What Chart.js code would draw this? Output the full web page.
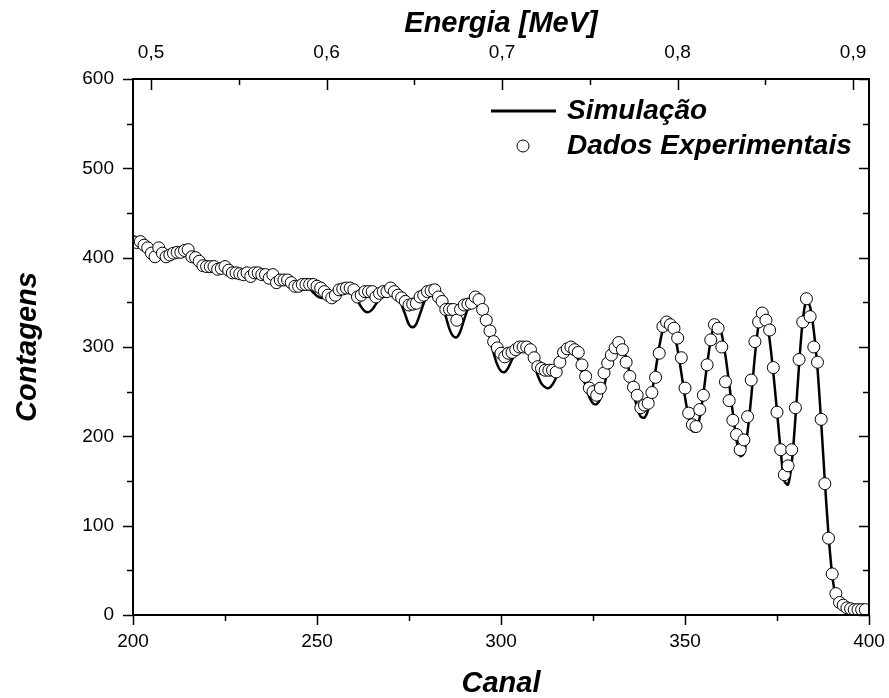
<!DOCTYPE html>
<html>
<head>
<meta charset="utf-8">
<script src="https://cdn.jsdelivr.net/npm/chart.js@4.4.1/dist/chart.umd.min.js"></script>
<style>
  body { margin: 0; background: #fff; }
</style>
</head>
<body>
<canvas id="spectrumChart" width="889" height="698"></canvas>
<script>
// canais 200..399 (dados) e 200..400 (simulacao)
var firstChannel = 200;

var expCounts = [
  418, 417, 418, 414, 411, 405, 401, 411, 405, 401,
  403, 405, 406, 406, 408, 409, 401, 400, 396, 391,
  390, 390, 390, 387, 388, 390, 386, 383, 383, 382,
  381, 383, 379, 383, 383, 381, 381, 377, 381, 372,
  375, 375, 375, 372, 368, 368, 370, 370, 370, 370,
  368, 366, 362, 358, 355, 358, 364, 365, 366, 366,
  364, 356, 358, 362, 362, 362, 356, 360, 362, 362,
  366, 362, 358, 355, 351, 347, 348, 349, 356, 358,
  362, 363, 364, 356, 351, 342, 342, 342, 330, 342,
  347, 348, 349, 356, 353, 342, 330, 318, 306, 299,
  293, 289, 293, 294, 297, 300, 300, 300, 297, 288,
  278, 276, 274, 274, 274, 272, 283, 294, 298, 300,
  297, 294, 280, 267, 254, 250, 246, 254, 271, 282,
  291, 299, 305, 297, 283, 267, 255, 246, 232, 235,
  237, 249, 266, 293, 323, 328, 325, 321, 310, 288,
  254, 226, 213, 211, 230, 246, 280, 308, 325, 321,
  300, 261, 240, 218, 202, 185, 196, 222, 263, 306,
  328, 338, 330, 319, 277, 227, 185, 157, 167, 185,
  232, 286, 328, 354, 334, 300, 283, 219, 147, 86,
  46, 24, 14, 11, 8, 7, 6, 6, 6, 6
];

var simCounts = [
  417, 416, 414, 412, 410, 408, 406, 405, 404, 404,
  404, 405, 406, 406, 405, 403, 400, 397, 394, 392,
  390, 389, 388, 387, 387, 386, 385, 384, 383, 382,
  381, 381, 380, 380, 380, 379, 378, 377, 376, 375,
  374, 373, 372, 371, 370, 369, 368, 367, 365, 361,
  357, 355, 355, 357, 360, 363, 365, 365, 364, 362,
  358, 352, 345, 340, 339, 342, 348, 355, 360, 363,
  364, 362, 356, 347, 336, 325, 322, 326, 337, 349,
  358, 362, 361, 356, 347, 334, 320, 312, 311, 318,
  331, 343, 352, 355, 352, 342, 327, 310, 293, 280,
  273, 272, 277, 286, 294, 299, 300, 298, 291, 280,
  268, 259, 255, 254, 258, 266, 278, 290, 298, 300,
  296, 286, 272, 256, 244, 237, 236, 242, 256, 274,
  291, 302, 306, 301, 288, 270, 250, 232, 222, 221,
  230, 249, 274, 300, 320, 330, 328, 317, 297, 271,
  244, 221, 206, 206, 221, 248, 280, 308, 325, 327,
  314, 290, 259, 226, 196, 178, 181, 205, 244, 290,
  325, 340, 333, 308, 271, 228, 184, 150, 146, 170,
  220, 280, 330, 352, 345, 318, 276, 216, 150, 90,
  45, 20, 10, 7, 6, 5, 5, 5, 5, 5,
  5
];

var channelTicks = [200, 250, 300, 350, 400];
var channelMinor = [225, 275, 325, 375];
var countTicks = [0, 100, 200, 300, 400, 500, 600];
var countMinor = [50, 150, 250, 350, 450, 550];
var energyTicks = [0.5, 0.6, 0.7, 0.8, 0.9];
var energyMinor = [0.55, 0.65, 0.75, 0.85];
var energyMin = 0.4897;
var energyMax = 0.9091;

var expPoints = expCounts.map(function (v, i) { return {x: firstChannel + i, y: v}; });
var simPoints = simCounts.map(function (v, i) { return {x: firstChannel + i, y: v}; });

var tickFont = {family: '"Liberation Sans", Arial, sans-serif', size: 19};
var titleFont = {family: '"Liberation Sans", Arial, sans-serif', size: 29, weight: 'bold', style: 'italic', lineHeight: 1};

function setTicks(values) {
  return function (scale) {
    scale.ticks = values.map(function (v) { return {value: v}; });
  };
}

function noOverhang(h) {
  return function (s) {
    s.height = h;
    s.paddingLeft = 0;
    s.paddingRight = 0;
  };
}

// moldura, ticks para dentro/fora e legenda
var framePlugin = {
  id: 'frame',
  afterDraw: function (chart) {
    var ctx = chart.ctx;
    var a = chart.chartArea;
    var sx = chart.scales.x, sy = chart.scales.y, se = chart.scales.x2;
    ctx.save();
    ctx.strokeStyle = '#000';
    ctx.lineWidth = 2;
    ctx.strokeRect(a.left, a.top, a.right - a.left, a.bottom - a.top);
    ctx.lineWidth = 1.5;
    ctx.beginPath();
    function tx(list, scale, len) {
      list.forEach(function (v) {
        var p = Math.round(scale.getPixelForValue(v)) + 0.5;
        ctx.moveTo(p, a.bottom); ctx.lineTo(p, a.bottom + len);
      });
    }
    function ty(list, len) {
      list.forEach(function (v) {
        var p = Math.round(sy.getPixelForValue(v)) + 0.5;
        ctx.moveTo(a.left, p); ctx.lineTo(a.left - len, p);
        ctx.moveTo(a.right, p); ctx.lineTo(a.right - len, p);
      });
    }
    function te(list, len) {
      list.forEach(function (v) {
        var p = Math.round(se.getPixelForValue(v)) + 0.5;
        ctx.moveTo(p, a.top); ctx.lineTo(p, a.top + len);
      });
    }
    tx(channelTicks, sx, 10);
    tx(channelMinor, sx, 6);
    ty(countTicks, 10);
    ty(countMinor, 6);
    te(energyTicks, 11);
    te(energyMinor, 6);
    ctx.stroke();

    // legenda
    var lx = a.left + 358, ly1 = a.top + 32, ly2 = a.top + 67;
    ctx.lineWidth = 3;
    ctx.beginPath();
    ctx.moveTo(lx, ly1); ctx.lineTo(lx + 65, ly1);
    ctx.stroke();
    ctx.lineWidth = 1;
    ctx.fillStyle = '#fff';
    ctx.beginPath();
    ctx.arc(lx + 32, ly2, 6, 0, Math.PI * 2);
    ctx.fill();
    ctx.stroke();
    ctx.fillStyle = '#000';
    ctx.font = 'italic bold 28px "Liberation Sans", Arial, sans-serif';
    ctx.textBaseline = 'middle';
    ctx.fillText('Simulação', lx + 76, ly1);
    ctx.fillText('Dados Experimentais', lx + 76, ly2);
    ctx.restore();
  }
};

var chart = new Chart(
  document.getElementById('spectrumChart'),
  {
    type: 'scatter',
    data: {
      datasets: [{
        label: 'Dados Experimentais',
        data: expPoints,
        showLine: false,
        pointRadius: 6,
        pointBorderWidth: 1,
        pointBackgroundColor: '#fff',
        pointBorderColor: '#000',
        order: 0
      }, {
        label: 'Simulação',
        data: simPoints,
        showLine: true,
        borderColor: '#000',
        borderWidth: 2.5,
        pointRadius: 0,
        tension: 0.3,
        order: 1
      }]
    },
    options: {
      responsive: false,
      animation: false,
      devicePixelRatio: 1,
      layout: { padding: { right: 20, left: 0, top: 0, bottom: 0 } },
      plugins: {
        legend: { display: false },
        tooltip: { enabled: false }
      },
      scales: {
        x: {
          type: 'linear',
          position: 'bottom',
          min: 200,
          max: 400,
          afterBuildTicks: setTicks(channelTicks),
          afterFit: noOverhang(83),
          grid: { display: false, drawTicks: false },
          border: { display: false },
          ticks: { color: '#000', font: tickFont, padding: 15, maxRotation: 0 },
          title: { display: true, text: 'Canal', color: '#000', font: titleFont, padding: { top: 0, bottom: 0 } }
        },
        x2: {
          type: 'linear',
          position: 'top',
          min: energyMin,
          max: energyMax,
          afterBuildTicks: setTicks(energyTicks),
          afterFit: noOverhang(79),
          grid: { display: false, drawTicks: false },
          border: { display: false },
          ticks: {
            color: '#000', font: tickFont, padding: 15, maxRotation: 0,
            callback: function (v) { return v.toFixed(1).replace('.', ','); }
          },
          title: { display: true, text: 'Energia [MeV]', color: '#000', font: titleFont, padding: { top: 9, bottom: 0 } }
        },
        y: {
          type: 'linear',
          position: 'left',
          min: 0,
          max: 600,
          afterBuildTicks: setTicks(countTicks),
          afterFit: function (s) { s.width = 133; },
          grid: { display: false, drawTicks: false },
          border: { display: false },
          ticks: { color: '#000', font: tickFont, padding: 19 },
          title: { display: true, text: 'Contagens', color: '#000', font: titleFont, padding: { top: 13, bottom: 0 } }
        }
      }
    },
    plugins: [framePlugin]
  }
);
</script>
</body>
</html>
